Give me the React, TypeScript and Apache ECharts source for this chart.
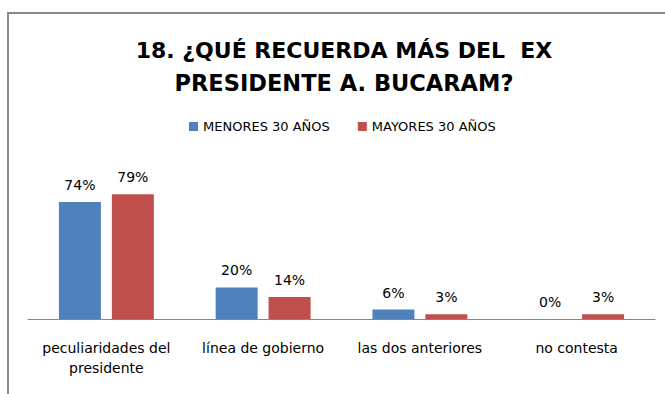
import React, { useEffect, useRef } from "react";
import * as echarts from "echarts";

const categories = ["peculiaridades del\npresidente", "línea de gobierno", "las dos anteriores", "no contesta"];
const seriesNames = ["MENORES 30 AÑOS", "MAYORES 30 AÑOS"];
const menores = [74, 20, 6, 0];
const mayores = [79, 14, 3, 3];
const titleLines = ["18. ¿QUÉ RECUERDA MÁS DEL  EX", "PRESIDENTE A. BUCARAM?"];

const FONT = "'DejaVu Sans', sans-serif";

export default function App() {
  const ref = useRef<HTMLDivElement>(null);
  useEffect(() => {
    if (!ref.current) return;
    const chart = echarts.init(ref.current, undefined, { renderer: "svg" });
    chart.setOption({
      animation: false,
      backgroundColor: "#ffffff",
      textStyle: { fontFamily: FONT },
      graphic: [
        {
          type: "polyline",
          shape: { points: [[8, 394], [8, 13], [665, 13]] },
          style: { stroke: "#8a8a8a", lineWidth: 2, fill: "none" },
        },
        {
          type: "text",
          x: 344,
          y: 50,
          style: {
            text: titleLines[0],
            font: `bold 22px ${FONT}`,
            fill: "#000",
            align: "center",
            verticalAlign: "middle",
          },
        },
        {
          type: "text",
          x: 344,
          y: 83,
          style: {
            text: titleLines[1],
            font: `bold 22.5px ${FONT}`,
            fill: "#000",
            align: "center",
            verticalAlign: "middle",
          },
        },
      ],
      legend: {
        data: seriesNames,
        left: 184,
        top: 115,
        icon: "rect",
        itemWidth: 9,
        itemHeight: 9,
        itemGap: 28,
        textStyle: { fontSize: 13, color: "#000", fontFamily: FONT },
      },
      grid: { left: 28, right: 10, top: 161, bottom: 75 },
      xAxis: {
        type: "category",
        data: categories,
        axisLine: { lineStyle: { color: "#868686", width: 1 } },
        axisTick: { show: false },
        axisLabel: {
          fontSize: 14,
          color: "#000",
          lineHeight: 20,
          margin: 19,
          interval: 0,
          fontFamily: FONT,
        },
      },
      yAxis: {
        type: "value",
        min: 0,
        max: 100,
        show: false,
        splitLine: { show: false },
      },
      series: [
        {
          name: seriesNames[0],
          type: "bar",
          data: menores,
          barWidth: 42,
          barGap: "26%",
          itemStyle: { color: "#4F81BD" },
          label: {
            show: true,
            position: "top",
            distance: 10,
            formatter: "{c}%",
            fontSize: 14,
            color: "#000",
            fontFamily: FONT,
          },
        },
        {
          name: seriesNames[1],
          type: "bar",
          data: mayores,
          barWidth: 42,
          itemStyle: { color: "#C0504D" },
          label: {
            show: true,
            position: "top",
            distance: 10,
            formatter: "{c}%",
            fontSize: 14,
            color: "#000",
            fontFamily: FONT,
          },
        },
      ],
    });
    return () => chart.dispose();
  }, []);
  return (
    <div
      ref={ref}
      style={{ position: "absolute", left: 0, top: 0, width: 665, height: 394 }}
    />
  );
}
